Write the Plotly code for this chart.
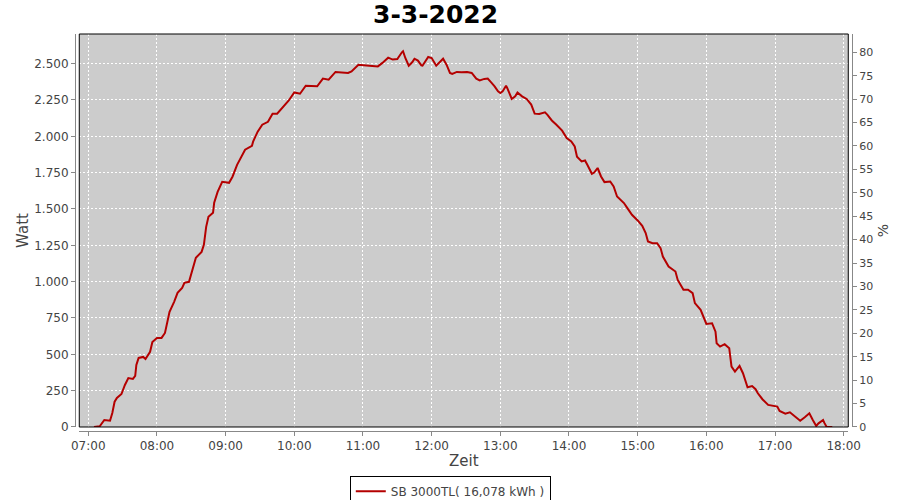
import plotly.graph_objects as go

DAY = "2022-03-03"
times = ["07:05","07:10","07:14","07:19","07:21","07:23","07:25","07:29","07:32","07:35",
         "07:39","07:41","07:42","07:44","07:48","07:50","07:54","07:56","08:00","08:04",
         "08:07","08:09","08:11","08:15","08:18","08:22","08:24","08:28","08:31","08:34",
         "08:39","08:41","08:43","08:45","08:49","08:50","08:53","08:57","09:03","09:06",
         "09:10","09:13","09:17","09:23","09:24","09:28","09:32","09:37","09:41","09:45",
         "09:50","09:55","10:00","10:05","10:10","10:16","10:20","10:25","10:30","10:36",
         "10:40","10:47","10:50","10:56","11:03","11:12","11:13","11:17","11:22","11:26",
         "11:30","11:34","11:35","11:37","11:40","11:43","11:45","11:48","11:51","11:52",
         "11:57","12:00","12:04","12:10","12:13","12:16","12:18","12:22","12:26","12:31",
         "12:35","12:39","12:42","12:46","12:49","12:52","12:55","12:58","13:00","13:02",
         "13:05","13:06","13:10","13:13","13:15","13:19","13:23","13:27","13:30","13:34",
         "13:39","13:41","13:45","13:49","13:54","13:58","14:02","14:05","14:07","14:11",
         "14:14","14:16","14:20","14:22","14:25","14:28","14:31","14:36","14:39","14:42",
         "14:45","14:48","14:51","14:55","15:00","15:04","15:07","15:09","15:13","15:17",
         "15:20","15:22","15:27","15:33","15:35","15:40","15:44","15:48","15:50","15:55",
         "16:00","16:05","16:08","16:09","16:12","16:16","16:20","16:22","16:25","16:29",
         "16:32","16:36","16:40","16:43","16:45","16:49","16:54","16:58","17:02","17:04",
         "17:09","17:13","17:17","17:22","17:26","17:30","17:33","17:36","17:38","17:42",
         "17:43","17:45","17:50"]
watt = [0,5,48,43,96,174,200,227,289,337,
        331,351,427,475,482,468,517,585,613,613,
        647,716,792,861,923,957,992,999,1081,1164,
        1205,1253,1377,1446,1474,1543,1618,1687,1680,1722,
        1804,1853,1908,1935,1963,2032,2080,2100,2156,2156,
        2197,2245,2302,2293,2348,2344,2344,2397,2390,2443,
        2440,2436,2447,2493,2488,2486,2481,2505,2541,2528,
        2532,2578,2585,2539,2486,2509,2534,2521,2488,2486,
        2546,2539,2486,2534,2493,2436,2429,2443,2440,2443,
        2436,2397,2385,2395,2397,2371,2344,2309,2298,2309,
        2348,2333,2257,2275,2302,2275,2257,2218,2156,2154,
        2165,2149,2109,2080,2039,1988,1965,1930,1859,1827,
        1834,1804,1742,1751,1782,1724,1685,1689,1655,1586,
        1563,1541,1506,1460,1421,1384,1334,1276,1265,1265,
        1231,1173,1104,1070,1012,944,944,921,852,806,
        709,714,656,576,553,570,542,415,381,420,
        370,273,282,260,232,191,152,145,140,110,
        92,101,76,43,67,94,48,7,25,48,
        30,2,0]

title_text = "3-3-2022"
series_name = "SB 3000TL( 16,078 kWh )"
x_title = "Zeit"
y_title = "Watt"
y2_title = "%"

x = [f"{DAY} {t}" for t in times]

FONT = "DejaVu Sans"
TICKC = "#444444"
AXC = "#888888"

fig = go.Figure()
fig.add_trace(go.Scatter(x=x, y=watt, mode="lines", name=series_name,
                         line=dict(color="#B40000", width=2)))
fig.add_trace(go.Scatter(x=[x[0]], y=[0], yaxis="y2", mode="markers",
                         marker=dict(opacity=0), showlegend=False, hoverinfo="skip"))

fig.update_layout(
    width=900, height=500,
    margin=dict(l=75, r=48, t=34, b=69, autoexpand=False),
    paper_bgcolor="white", plot_bgcolor="#CCCCCC",
    separators=",.",
    font=dict(family=FONT, size=12, color=TICKC),
    title=dict(text=f"<b>{title_text}</b>", x=0.484, xanchor="center", y=0.972, yanchor="middle",
               font=dict(family=FONT, size=25, color="black")),
    xaxis=dict(type="date", domain=[0.0055, 0.9952], anchor="free", position=0,
               range=[f"{DAY} 06:52:08", f"{DAY} 18:04:00"],
               tick0=f"{DAY} 07:00", dtick=3600000, tickformat="%H:%M",
               showgrid=True, gridcolor="white", griddash="2px,2px", gridwidth=1,
               showline=True, linecolor=AXC, linewidth=1,
               ticks="outside", ticklen=4, tickcolor=AXC,
               tickfont=dict(family=FONT, size=12, color=TICKC),
               title=dict(text=x_title, font=dict(family=FONT, size=15, color=TICKC), standoff=3),
               zeroline=False, automargin=False),
    yaxis=dict(domain=[0.0101, 1], anchor="free", position=0,
               range=[0, 2704], dtick=250, tickformat=",d",
               showgrid=True, gridcolor="white", griddash="2px,2px", gridwidth=1,
               showline=True, linecolor=AXC, linewidth=1,
               ticks="outside", ticklen=4, tickcolor=AXC,
               tickfont=dict(family=FONT, size=12, color=TICKC),
               title=dict(text=y_title, font=dict(family=FONT, size=15, color=TICKC), standoff=0),
               zeroline=False, automargin=False),
    yaxis2=dict(overlaying="y", side="right", anchor="free", position=1,
                range=[0, 83.9], dtick=5, showgrid=False,
                showline=True, linecolor=AXC, linewidth=1,
                ticks="outside", ticklen=4, tickcolor=AXC,
                tickfont=dict(family=FONT, size=11, color=TICKC),
                title=dict(text=y2_title, font=dict(family=FONT, size=14, color=TICKC), standoff=6),
                zeroline=False, automargin=False),
    legend=dict(orientation="h", x=0.483, xanchor="center", y=-0.113, yanchor="top",
                bordercolor="black", borderwidth=1, bgcolor="white",
                font=dict(family=FONT, size=12, color=TICKC)),
    showlegend=True,
    shapes=[dict(type="rect", xref="x domain", yref="y domain", x0=0, x1=1, y0=0, y1=1,
                 line=dict(color="black", width=1), layer="above")],
)

fig.write_html("out.html", config={"displayModeBar": False},
               post_script="document.body.style.margin='0px';")
